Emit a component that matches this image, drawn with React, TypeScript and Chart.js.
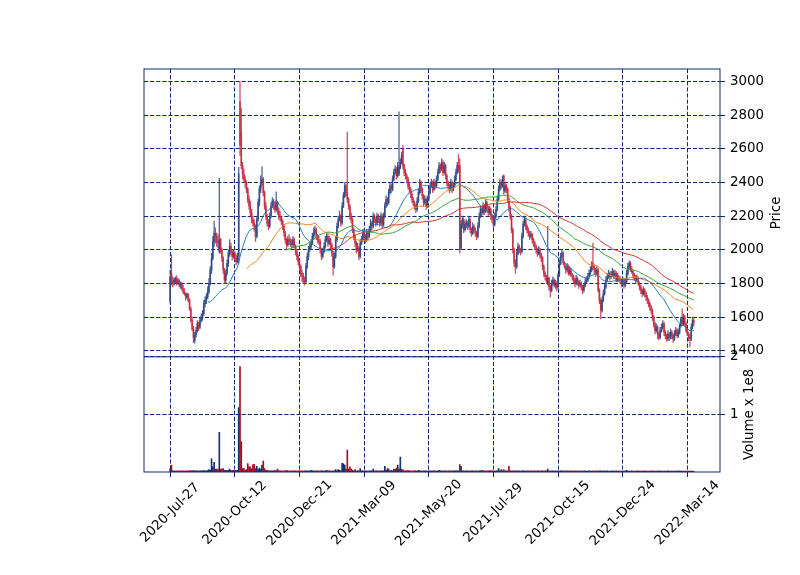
import { useEffect, useRef } from 'react';
import { Chart, registerables } from 'chart.js';

Chart.register(...registerables);

// ---- tick labels ----
const dateLabels = ['2020-Jul-27', '2020-Oct-12', '2020-Dec-21', '2021-Mar-09', '2021-May-20', '2021-Jul-29', '2021-Oct-15', '2021-Dec-24', '2022-Mar-14'];
const dateTickIndex = [0, 50, 100, 150, 200, 250, 300, 350, 400];
const priceTicks = [1400, 1600, 1800, 2000, 2200, 2400, 2600, 2800, 3000];
const volumeTicks = [1, 2]; // x 1e8
const maPeriods = [30, 60, 90, 120];

// ---- daily OHLC ----
const open = [
  1690,1860,1810,1800,1815,1830,1800,1815,1790,1800,
  1770,1750,1740,1720,1735,1700,1650,1580,1530,1460,
  1495,1520,1560,1540,1580,1600,1620,1680,1700,1720,
  1750,1800,1880,1950,2050,2100,2080,2050,1990,2060,
  2000,1950,1880,1820,1860,1920,1980,2020,1990,1960,
  1980,1950,1930,1960,2880,2700,2500,2450,2420,2400,
  2360,2300,2260,2220,2180,2160,2140,2080,2180,2280,
  2360,2400,2420,2340,2260,2200,2160,2140,2200,2260,
  2290,2260,2240,2280,2230,2200,2190,2170,2140,2100,
  2060,2030,2060,2050,2040,2030,2060,2020,1990,1960,
  1930,1900,1860,1840,1820,1810,1900,1960,2000,2020,
  2040,2080,2100,2120,2080,2060,2050,2000,1960,1990,
  2020,2060,2080,2040,2060,2030,1980,1900,1960,2060,
  2140,2180,2200,2160,2260,2320,2380,2340,2300,2260,
  2200,2180,2120,2080,2040,2000,2010,1960,2040,2060,
  2100,2080,2060,2100,2080,2120,2160,2140,2200,2180,
  2160,2200,2180,2160,2200,2150,2200,2260,2300,2280,
  2340,2380,2360,2420,2460,2480,2440,2450,2490,2520,
  2600,2500,2460,2440,2420,2380,2360,2330,2300,2280,
  2260,2240,2290,2340,2400,2360,2320,2280,2300,2260,
  2300,2340,2380,2400,2360,2400,2380,2420,2460,2500,
  2480,2520,2460,2500,2440,2400,2380,2360,2400,2360,
  2380,2420,2460,2500,2500,2010,2150,2180,2120,2150,
  2160,2140,2180,2120,2100,2140,2120,2100,2080,2140,
  2200,2240,2220,2260,2230,2280,2250,2220,2240,2200,
  2180,2150,2200,2240,2300,2360,2400,2380,2440,2350,
  2380,2360,2300,2250,2200,2120,2000,1920,1900,1980,
  2020,2000,1990,2080,2150,2180,2140,2120,2100,2080,
  2090,2060,2040,2020,2000,1980,2000,1970,1950,1900,
  1860,1840,1800,1830,1780,1760,1800,1820,1790,1800,
  1780,1850,1920,1960,1980,1920,1900,1880,1900,1860,
  1880,1850,1840,1820,1800,1830,1810,1790,1800,1780,
  1760,1790,1810,1820,1840,1860,1880,1920,1900,1880,
  1860,1880,1760,1700,1640,1700,1740,1780,1820,1840,
  1860,1840,1850,1870,1840,1860,1820,1840,1830,1820,
  1800,1820,1790,1810,1860,1900,1920,1880,1870,1850,
  1840,1820,1830,1800,1780,1760,1740,1760,1740,1720,
  1700,1680,1660,1640,1600,1560,1520,1540,1500,1480,
  1520,1540,1560,1510,1490,1470,1500,1480,1510,1490,
  1470,1500,1520,1490,1510,1550,1590,1560,1600,1560,
  1520,1500,1480,1470,1540,1580,
];
const high = [
  1880,1970,1840,1830,1840,1845,1830,1825,1810,1805,
  1790,1770,1745,1745,1740,1710,1660,1600,1545,1510,
  1540,1580,1570,1600,1620,1640,1700,1720,1740,1780,
  1830,1900,1980,2080,2170,2130,2100,2090,2425,2070,
  2010,1960,1890,1880,1940,2000,2060,2040,2000,2000,
  1990,1970,1980,2490,3000,2840,2520,2480,2440,2410,
  2370,2320,2290,2240,2200,2180,2150,2200,2300,2380,
  2440,2495,2430,2350,2280,2210,2180,2220,2280,2310,
  2300,2280,2345,2290,2250,2230,2200,2180,2150,2110,
  2070,2080,2090,2070,2060,2080,2070,2030,2000,1970,
  1940,1910,1880,1860,1840,1920,1980,2020,2040,2060,
  2100,2130,2140,2130,2090,2080,2060,2010,2010,2040,
  2080,2100,2090,2080,2070,2040,1990,1980,2080,2160,
  2200,2230,2210,2280,2340,2400,2390,2700,2310,2270,
  2220,2190,2130,2090,2050,2040,2020,2060,2080,2120,
  2110,2090,2120,2110,2140,2180,2170,2220,2210,2190,
  2220,2210,2190,2220,2210,2220,2280,2320,2310,2360,
  2400,2390,2440,2480,2500,2490,2520,2820,2540,2580,
  2620,2510,2480,2450,2430,2400,2370,2340,2310,2290,
  2270,2310,2360,2420,2410,2370,2330,2320,2310,2320,
  2360,2400,2420,2410,2420,2410,2440,2480,2520,2510,
  2540,2530,2520,2510,2450,2410,2390,2420,2410,2400,
  2440,2480,2520,2565,2540,2170,2200,2190,2170,2180,
  2170,2200,2190,2130,2160,2150,2130,2110,2160,2220,
  2260,2250,2280,2270,2300,2290,2260,2260,2250,2210,
  2190,2220,2260,2320,2380,2420,2410,2440,2445,2400,
  2390,2370,2310,2260,2210,2130,2010,1940,2000,2040,
  2030,2010,2100,2170,2200,2190,2150,2130,2110,2110,
  2100,2070,2050,2030,2010,2020,2010,1980,1960,1910,
  1870,1850,2140,1840,1790,1820,1840,1830,1820,1810,
  1860,1940,1980,2000,1990,1930,1910,1920,1910,1900,
  1890,1860,1850,1830,1850,1840,1820,1820,1810,1790,
  1800,1830,1840,1860,1880,1900,1930,2040,1910,1890,
  1900,1890,1770,1710,1720,1760,1800,1840,1860,1880,
  1870,1870,1890,1880,1880,1870,1860,1850,1840,1830,
  1840,1830,1830,1880,1920,1935,1930,1900,1880,1860,
  1850,1850,1840,1810,1790,1770,1780,1770,1750,1730,
  1710,1690,1670,1650,1610,1570,1560,1550,1510,1540,
  1560,1580,1570,1520,1500,1520,1510,1530,1520,1500,
  1520,1540,1530,1530,1560,1600,1650,1620,1610,1570,
  1530,1510,1500,1560,1600,1600,
];
const low = [
  1680,1790,1780,1790,1800,1790,1795,1780,1770,1760,
  1740,1730,1700,1710,1690,1640,1570,1520,1450,1445,
  1480,1510,1520,1530,1570,1580,1610,1660,1680,1710,
  1740,1790,1860,1940,2020,2040,2020,2010,1980,1980,
  1930,1860,1800,1800,1850,1900,1960,1970,1940,1950,
  1930,1910,1920,1920,2560,2480,2420,2400,2370,2340,
  2280,2240,2200,2160,2140,2110,2050,2070,2170,2260,
  2340,2380,2320,2240,2180,2140,2120,2130,2190,2250,
  2240,2220,2230,2210,2180,2170,2150,2120,2080,2040,
  2000,2020,2030,2020,2010,2020,2010,1970,1940,1910,
  1880,1840,1810,1800,1790,1800,1890,1940,1990,2000,
  2030,2060,2090,2060,2040,2030,1980,1940,1950,1980,
  2010,2050,2020,2030,2010,1960,1850,1890,1950,2050,
  2130,2170,2140,2150,2250,2310,2320,2280,2240,2180,
  2160,2100,2060,2020,1980,1990,1940,1950,2030,2050,
  2060,2040,2050,2060,2070,2110,2120,2130,2160,2140,
  2150,2160,2140,2150,2130,2140,2190,2250,2260,2270,
  2330,2340,2350,2410,2450,2420,2430,2440,2480,2510,
  2480,2440,2420,2400,2360,2340,2310,2280,2260,2240,
  2220,2230,2280,2330,2340,2300,2260,2270,2240,2250,
  2290,2330,2370,2340,2350,2360,2370,2410,2450,2460,
  2470,2440,2450,2420,2380,2360,2340,2350,2340,2350,
  2370,2410,2450,2460,1980,2000,2130,2100,2110,2130,
  2120,2130,2100,2080,2090,2100,2080,2060,2070,2130,
  2190,2200,2210,2210,2220,2230,2200,2210,2180,2160,
  2130,2140,2190,2230,2290,2350,2360,2370,2330,2340,
  2340,2280,2230,2180,2100,1980,1900,1860,1890,1970,
  1980,1970,1980,2070,2140,2120,2100,2080,2060,2070,
  2040,2020,2000,1980,1960,1970,1950,1930,1880,1840,
  1820,1800,1790,1760,1720,1750,1790,1780,1770,1755,
  1770,1840,1910,1950,1910,1890,1860,1870,1850,1850,
  1840,1820,1800,1780,1790,1790,1770,1780,1760,1740,
  1750,1780,1800,1810,1830,1850,1870,1880,1860,1840,
  1850,1750,1680,1590,1630,1690,1730,1770,1810,1830,
  1820,1830,1840,1830,1830,1810,1810,1810,1800,1780,
  1790,1770,1780,1800,1850,1890,1870,1860,1830,1820,
  1800,1810,1790,1760,1740,1720,1730,1720,1700,1680,
  1660,1640,1620,1580,1540,1500,1510,1470,1465,1470,
  1510,1530,1490,1470,1455,1460,1460,1470,1470,1450,
  1460,1490,1480,1480,1500,1540,1550,1550,1550,1510,
  1490,1460,1425,1460,1530,1550,
];
const close = [
  1840,1810,1800,1820,1830,1800,1815,1790,1800,1770,
  1750,1740,1720,1735,1700,1650,1580,1530,1480,1495,
  1520,1560,1540,1580,1600,1620,1680,1700,1720,1750,
  1800,1880,1950,2050,2100,2080,2050,2040,2060,2000,
  1950,1880,1820,1860,1920,1980,2020,1990,1960,1980,
  1950,1930,1960,2450,2620,2500,2450,2420,2400,2360,
  2300,2260,2220,2180,2160,2140,2080,2180,2280,2360,
  2400,2420,2340,2260,2200,2160,2140,2200,2260,2290,
  2260,2240,2280,2230,2200,2190,2170,2140,2100,2060,
  2030,2060,2050,2040,2030,2060,2020,1990,1960,1930,
  1900,1860,1840,1820,1810,1900,1960,2000,2020,2040,
  2080,2100,2120,2080,2060,2050,2000,1960,1990,2020,
  2060,2080,2040,2060,2030,1980,1900,1960,2060,2140,
  2180,2200,2160,2260,2320,2380,2340,2300,2260,2200,
  2180,2120,2080,2040,2000,2010,1960,2040,2060,2100,
  2080,2060,2100,2080,2120,2160,2140,2200,2180,2160,
  2200,2180,2160,2200,2150,2200,2260,2300,2280,2340,
  2380,2360,2420,2460,2480,2440,2500,2490,2520,2560,
  2500,2460,2440,2420,2380,2360,2330,2300,2280,2260,
  2240,2290,2340,2400,2360,2320,2280,2300,2260,2300,
  2340,2380,2400,2360,2400,2380,2420,2460,2500,2480,
  2520,2460,2500,2440,2400,2380,2360,2400,2360,2380,
  2420,2460,2500,2480,2000,2150,2180,2120,2150,2160,
  2140,2180,2120,2100,2140,2120,2100,2080,2140,2200,
  2240,2220,2260,2230,2280,2250,2220,2240,2200,2180,
  2150,2200,2240,2300,2360,2400,2380,2420,2350,2380,
  2360,2300,2250,2200,2120,2000,1920,1900,1980,2020,
  2000,1990,2080,2150,2180,2140,2120,2100,2080,2090,
  2060,2040,2020,2000,1980,2000,1970,1950,1900,1860,
  1840,1820,1830,1780,1760,1800,1820,1790,1800,1780,
  1850,1920,1960,1980,1920,1900,1880,1900,1860,1880,
  1850,1840,1820,1800,1830,1810,1790,1800,1780,1760,
  1790,1810,1820,1840,1860,1880,1900,1900,1880,1860,
  1880,1760,1700,1640,1700,1740,1780,1820,1840,1860,
  1840,1850,1870,1840,1860,1820,1840,1830,1820,1800,
  1820,1790,1810,1860,1900,1920,1880,1870,1850,1840,
  1820,1830,1800,1780,1760,1740,1760,1740,1720,1700,
  1680,1660,1640,1600,1560,1520,1540,1500,1480,1520,
  1540,1560,1510,1490,1470,1500,1480,1510,1490,1470,
  1500,1520,1490,1510,1550,1590,1560,1600,1560,1520,
  1500,1480,1470,1540,1580,1570,
];
// volume in millions of shares
const volumeM = [
  6,12,2,2,1.5,2,1.5,2,1.5,2,
  2,1.5,2,1.5,2,2,2.5,2,2.5,2,
  2,2,1.5,2,2,2,2.5,2,2,2.5,
  4,3,23,9,17,5,5,4,69,5,
  5,6,3,3,2.5,3,5,3,2.5,3,
  2.5,3,3,112,183,53,6,6,3,4,
  14.5,9,9,5,13,13,6,10,4,7,
  5,12,19,6,3,3,2,2,2,2,
  2,3,2,5,2,2,2,1.5,2,2,
  3,2,1.5,2,2,1.5,2,2,1.5,2,
  2,2,2,1.5,2,2,2,1.5,2,3,
  2,2,1.5,2,2,1.5,2,2,2,1.5,
  2,3,2,2,2,1.5,2,2,4,2,
  4,3,2,15,14,12,5,38,5,9,
  5,3,2,4,2,2,2,6,2,2,
  2,2,2,1.5,2,2,2,5,2,2,
  2,1.5,2,2,2,2,10,3,6,5,
  2,3,2,5,4,7,12,5,26,4,
  4,2,2,2,3,2,2,1.5,2,2,
  2,1.5,3,2,2,1.5,2,2,2,1.5,
  2,2,1.5,2,2,2,1.5,2,3,2,
  2,1.5,2,2,1.5,2,2,1.5,2,2,
  2,2,2,2,13,10,2,2,1.5,2,
  2,1.5,2,2,2,1.5,2,2,1.5,2,
  2,3,2,2,1.5,2,2,2,2.5,2,
  2,1.5,2,2,6,2,4,2,4,2,
  2,2,10,2,2,2,2,2,1.5,2,
  2,1.5,2,2,2,1.5,2,2,1.5,2,
  1.5,2,2,1.5,2,2,1.5,2,2,1.5,
  2,2,5,2,1.5,2,2,1.5,2,1.5,
  2,1.5,2,2,1.5,2,1.5,2,1.5,2,
  1.5,2,1.5,2,1.5,2,1.5,1.5,2,1.5,
  1.5,2,1.5,1.5,2,1.5,1.5,2,1.5,1.5,
  2,1.5,2,2,1.5,2,1.5,1.5,2,1.5,
  1.5,1.5,2,1.5,1.5,2,1.5,1.5,1.5,1.5,
  1.5,2,1.5,3,1.5,1.5,1.5,2,1.5,1.5,
  1.5,1.5,2,1.5,1.5,1.5,1.5,2,1.5,1.5,
  1.5,1.5,1.5,2,1.5,1.5,1.5,1.5,2,1.5,
  1.5,1.5,1.5,1.5,1.5,2,1.5,1.5,1.5,1.5,
  1.5,1.5,1.5,2,1.5,1.5,1.5,1.5,1.5,1.5,
  1.5,1.5,1.5,1.5,1.5,1,
];

const NAVY = '#0f2a6e';
const CANDLE_UP = 'rgba(44,70,130,0.85)';
const CANDLE_DOWN = 'rgba(196,43,66,0.85)';
const VOL_UP = '#15306b';
const VOL_DOWN = '#a50d20';
const MA_COLORS = ['#1f77b4', '#ff7f0e', '#2ca02c', '#d62728'];
const FONT = 'DejaVu Sans';

function sma(values: number[], n: number) {
  const out: { x: number; y: number }[] = [];
  let sum = 0;
  for (let i = 0; i < values.length; i++) {
    sum += values[i];
    if (i >= n) sum -= values[i - n];
    if (i >= n - 1) out.push({ x: i, y: sum / n });
  }
  return out;
}

const decorPlugin = {
  id: 'decor',
  afterDraw(chart: any) {
    const { ctx, chartArea } = chart;
    const { left, right, top, bottom } = chartArea;
    const xs = chart.scales.x;
    const yv = chart.scales.yv;
    ctx.save();
    ctx.strokeStyle = NAVY;
    ctx.lineWidth = 1;
    ctx.setLineDash([]);
    ctx.strokeRect(left, top, right - left, bottom - top);
    ctx.beginPath();
    ctx.moveTo(left, yv.top);
    ctx.lineTo(right, yv.top);
    ctx.stroke();

    ctx.fillStyle = '#000';
    ctx.font = `13.33px "${FONT}"`;
    ctx.textAlign = 'center';
    ctx.textBaseline = 'middle';
    dateTickIndex.forEach((v, k) => {
      const px = xs.getPixelForValue(v);
      ctx.save();
      ctx.translate(px, bottom + 41);
      ctx.rotate(-Math.PI / 4);
      ctx.fillText(dateLabels[k], 0, 0);
      ctx.restore();
    });

    ctx.save();
    ctx.translate(777, (top + yv.top) / 2);
    ctx.rotate(-Math.PI / 2);
    ctx.fillText('Price', 0, 0);
    ctx.restore();
    ctx.save();
    ctx.translate(750, (yv.top + yv.bottom) / 2);
    ctx.rotate(-Math.PI / 2);
    ctx.fillText('Volume x 1e8', 0, 0);
    ctx.restore();
    ctx.restore();
  },
};

export default function App() {
  const ref = useRef<HTMLCanvasElement>(null);
  useEffect(() => {
    document.body.style.margin = '0';
    const idx = close.map((_, i) => i);
    const up = idx.map((i) => close[i] >= open[i]);
    const N = close.length;
    const pad = (N - 1) * 0.05;
    const gridCommon = {
      color: NAVY,
      lineWidth: 1,
      drawTicks: true,
      tickLength: 5,
      tickColor: NAVY,
      tickWidth: 1,
      offset: false,
    };
    const chart = new Chart(ref.current as HTMLCanvasElement, {
      type: 'bar',
      data: {
        datasets: [
          ...maPeriods.map((p, k) => ({
            type: 'line' as const,
            label: 'MA' + p,
            data: sma(close, p),
            borderColor: MA_COLORS[k],
            borderWidth: 1,
            pointRadius: 0,
            tension: 0,
            yAxisID: 'y',
            order: 0,
          })),
          {
            type: 'bar' as const,
            label: 'wick',
            data: idx.map((i) => ({ x: i, y: [low[i], high[i]] })) as any,
            backgroundColor: idx.map((i) => (up[i] ? CANDLE_UP : CANDLE_DOWN)),
            barThickness: 0.6,
            grouped: false,
            borderWidth: 0,
            yAxisID: 'y',
            order: 2,
          },
          {
            type: 'bar' as const,
            label: 'body',
            data: idx.map((i) => ({ x: i, y: [open[i], close[i]] })) as any,
            backgroundColor: idx.map((i) => (up[i] ? CANDLE_UP : CANDLE_DOWN)),
            barThickness: 1.0,
            grouped: false,
            borderWidth: 0,
            yAxisID: 'y',
            order: 1,
          },
          {
            type: 'bar' as const,
            label: 'volume',
            data: idx.map((i) => ({ x: i, y: volumeM[i] })) as any,
            backgroundColor: idx.map((i) => (up[i] ? VOL_UP : VOL_DOWN)),
            barThickness: 1.0,
            grouped: false,
            borderWidth: 0,
            yAxisID: 'yv',
            order: 3,
          },
        ],
      },
      options: {
        responsive: false,
        animation: false,
        devicePixelRatio: 1,
        layout: { padding: { left: 144, top: 69, right: 0, bottom: 0 } },
        plugins: { legend: { display: false }, tooltip: { enabled: false } },
        scales: {
          x: {
            type: 'linear',
            position: 'bottom',
            offset: false,
            min: -pad,
            max: N - 1 + pad,
            afterBuildTicks: (s: any) => {
              s.ticks = dateTickIndex.map((v) => ({ value: v }));
            },
            afterFit: (s: any) => {
              s.height = 103;
            },
            ticks: { display: false },
            grid: gridCommon,
            border: { display: false, dash: [4.2, 1.9] },
          },
          y: {
            type: 'linear',
            position: 'right',
            stack: 'panels',
            stackWeight: 5,
            min: 1364,
            max: 3074,
            afterBuildTicks: (s: any) => {
              s.ticks = priceTicks.map((v) => ({ value: v }));
            },
            afterFit: (s: any) => {
              s.width = 80;
            },
            ticks: {
              color: '#000',
              padding: 5,
              font: { family: FONT, size: 13.33 },
              callback: (v: any) => String(v),
            },
            grid: gridCommon,
            border: { display: false, dash: [4.2, 1.9] },
          },
          yv: {
            type: 'linear',
            position: 'right',
            stack: 'panels',
            stackWeight: 2,
            min: 0,
            max: 200,
            afterBuildTicks: (s: any) => {
              s.ticks = volumeTicks.map((v) => ({ value: v * 100 }));
            },
            afterFit: (s: any) => {
              s.width = 80;
            },
            ticks: {
              color: '#000',
              padding: 5,
              font: { family: FONT, size: 13.33 },
              callback: (v: any) => String(Number(v) / 100),
            },
            grid: gridCommon,
            border: { display: false, dash: [4.2, 1.9] },
          },
        },
      } as any,
      plugins: [decorPlugin],
    });
    return () => chart.destroy();
  }, []);
  return (
    <div style={{ position: 'absolute', left: 0, top: 0, width: 800, height: 575, background: '#fff' }}>
      <canvas ref={ref} width={800} height={575} style={{ width: 800, height: 575, display: 'block' }} />
    </div>
  );
}
